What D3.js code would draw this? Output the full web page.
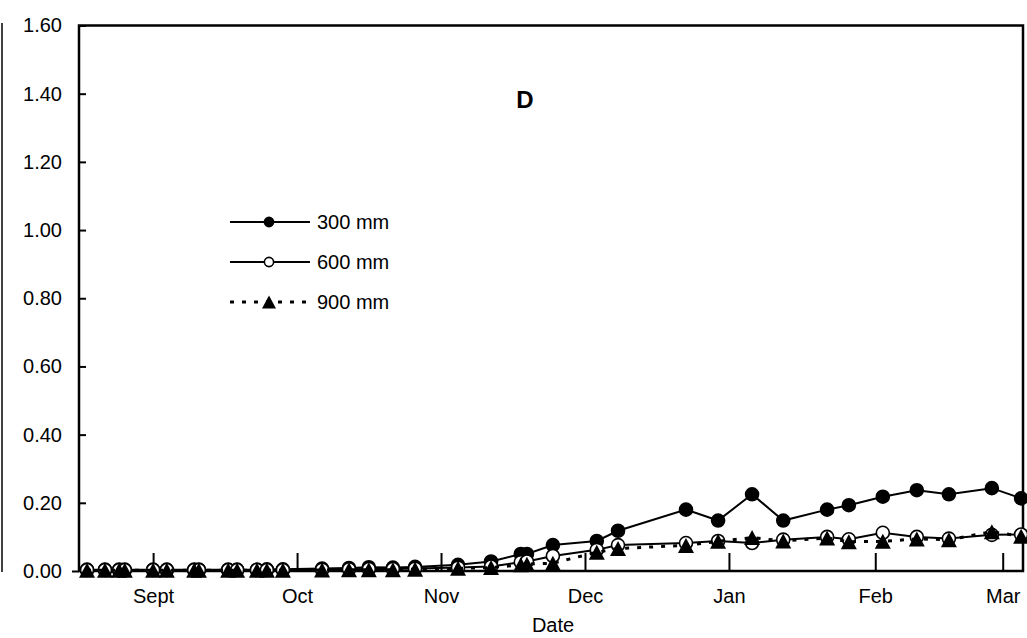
<!DOCTYPE html>
<html>
<head>
<meta charset="utf-8">
<script src="https://cdn.jsdelivr.net/npm/d3@7"></script>
<style>
  html, body { margin: 0; padding: 0; background: #fff; }
  svg { display: block; }
  text { font-family: "Liberation Sans", Arial, sans-serif; fill: #000; }
</style>
</head>
<body>
<svg id="chart" width="1027" height="638"></svg>
<script>
// ---- data (days counted from 1 August) ----
const days = [17, 20.8, 23.8, 25, 31, 33.9, 39.7, 40.7, 46.9, 48.8, 53, 55.1, 58.5, 66.8, 72.5,
  76.7, 81.8, 86.5, 95.6, 102.6, 108.9, 110.2, 115.7, 125, 129.5, 143.9, 150.7, 157.9, 164.5,
  173.8, 178.4, 185.6, 192.8, 199.6, 208.7, 214.9];

const v300 = [0.004, 0.004, 0.004, 0.004, 0.004, 0.004, 0.004, 0.004, 0.004, 0.004, 0.004, 0.005, 0.005, 0.007, 0.009,
  0.011, 0.01, 0.012, 0.018, 0.028, 0.05, 0.05, 0.076, 0.088, 0.118, 0.18, 0.148, 0.225, 0.148,
  0.18, 0.193, 0.218, 0.237, 0.225, 0.243, 0.213];

const v600 = [0.003, 0.003, 0.003, 0.003, 0.003, 0.003, 0.003, 0.003, 0.003, 0.003, 0.003, 0.003, 0.003, 0.004, 0.005,
  0.006, 0.006, 0.007, 0.01, 0.013, 0.026, 0.028, 0.044, 0.062, 0.076, 0.082, 0.088, 0.082, 0.092,
  0.1, 0.093, 0.112, 0.1, 0.095, 0.106, 0.107];

const v900 = [0.002, 0.002, 0.002, 0.002, 0.002, 0.002, 0.002, 0.002, 0.002, 0.002, 0.002, 0.002, 0.002, 0.003, 0.004,
  0.004, 0.004, 0.005, 0.008, 0.01, 0.018, 0.02, 0.023, 0.055, 0.066, 0.075, 0.087, 0.098, 0.088,
  0.097, 0.086, 0.087, 0.094, 0.092, 0.115, 0.102];

const seriesNames = ["300 mm", "600 mm", "900 mm"];
const yTicks = [0, 0.2, 0.4, 0.6, 0.8, 1.0, 1.2, 1.4, 1.6];
const monthTickDays = [31, 61.5, 92, 122.5, 153, 184, 211];
const monthLabels = ["Sept", "Oct", "Nov", "Dec", "Jan", "Feb", "Mar"];
const panelLabel = "D";
const xTitle = "Date";

// ---- layout ----
const svg = d3.select("#chart");
const L = 79, R = 1023, T = 25.5, B = 571;
const x = d3.scaleLinear().domain([15.3, 215.3]).range([L, R]);
const y = d3.scaleLinear().domain([0, 1.6]).range([B, T]);
const FS = 20;

// remnant border of neighbouring panel
svg.append("line").attr("x1", 2).attr("x2", 2).attr("y1", 23).attr("y2", 572)
  .attr("stroke", "#000").attr("stroke-width", 1.5);

// frame
svg.append("rect").attr("x", L).attr("y", T).attr("width", R - L).attr("height", B - T)
  .attr("fill", "none").attr("stroke", "#000").attr("stroke-width", 2.5);

// y axis
const yAxis = svg.append("g").attr("transform", `translate(${L},0)`)
  .call(d3.axisLeft(y).tickValues(yTicks).tickFormat(d3.format(".2f"))
    .tickSizeInner(-7).tickSizeOuter(0).tickPadding(17));
yAxis.select(".domain").remove();
yAxis.selectAll(".tick line").attr("stroke", "#000").attr("stroke-width", 2)
  .attr("x2", d => d === 0 ? -7 : 7);
yAxis.selectAll(".tick text").attr("font-size", FS).attr("font-family", "Liberation Sans, Arial, sans-serif");

// x axis
const xAxis = svg.append("g").attr("transform", `translate(0,${B})`)
  .call(d3.axisBottom(x).tickValues(monthTickDays).tickFormat((d, i) => monthLabels[i])
    .tickSizeInner(-18).tickSizeOuter(0).tickPadding(18));
xAxis.select(".domain").remove();
xAxis.selectAll(".tick line").attr("stroke", "#000").attr("stroke-width", 2);
xAxis.selectAll(".tick text").attr("font-size", FS).attr("font-family", "Liberation Sans, Arial, sans-serif");

// titles
svg.append("text").attr("x", (L + R) / 2 + 2).attr("y", 632).attr("text-anchor", "middle")
  .attr("font-size", FS).text(xTitle);
svg.append("text").attr("x", 525).attr("y", 108).attr("text-anchor", "middle")
  .attr("font-size", 24).attr("font-weight", "bold").text(panelLabel);

// series
const series = [
  { name: seriesNames[0], vals: v300, dash: null, marker: "fcircle" },
  { name: seriesNames[1], vals: v600, dash: null, marker: "ocircle" },
  { name: seriesNames[2], vals: v900, dash: "4,8", marker: "tri" }
];

function triangle(w, h) {
  return `M0,${-h / 2}L${w / 2},${h / 2}L${-w / 2},${h / 2}Z`;
}

function drawMarker(g, type, cx, cy, big) {
  if (type === "tri") {
    g.append("path").attr("d", big ? triangle(16, 15) : triangle(14, 13))
      .attr("transform", `translate(${cx},${cy})`).attr("fill", "#000");
  } else {
    g.append("circle").attr("cx", cx).attr("cy", cy).attr("r", big ? 6.5 : 4.6)
      .attr("fill", type === "fcircle" ? "#000" : "#fff")
      .attr("stroke", "#000").attr("stroke-width", 1.6);
  }
}

const line = d3.line().x(d => x(d[0])).y(d => y(d[1]));
series.forEach(s => {
  const pts = days.map((d, i) => [d, s.vals[i]]);
  const g = svg.append("g");
  g.append("path").attr("d", line(pts)).attr("fill", "none").attr("stroke", "#000")
    .attr("stroke-width", s.dash ? 3 : 2).attr("stroke-dasharray", s.dash);
  pts.forEach(p => drawMarker(g, s.marker, x(p[0]), y(p[1]), true));
});

// legend
const lg = svg.append("g");
series.forEach((s, i) => {
  const ly = 222 + i * 40;
  lg.append("line").attr("x1", 230).attr("x2", 310).attr("y1", ly).attr("y2", ly)
    .attr("stroke", "#000").attr("stroke-width", s.dash ? 3 : 2).attr("stroke-dasharray", s.dash);
  drawMarker(lg, s.marker, 269, ly, false);
  lg.append("text").attr("x", 317).attr("y", ly).attr("dy", "0.35em")
    .attr("font-size", FS).text(s.name);
});
</script>
</body>
</html>
